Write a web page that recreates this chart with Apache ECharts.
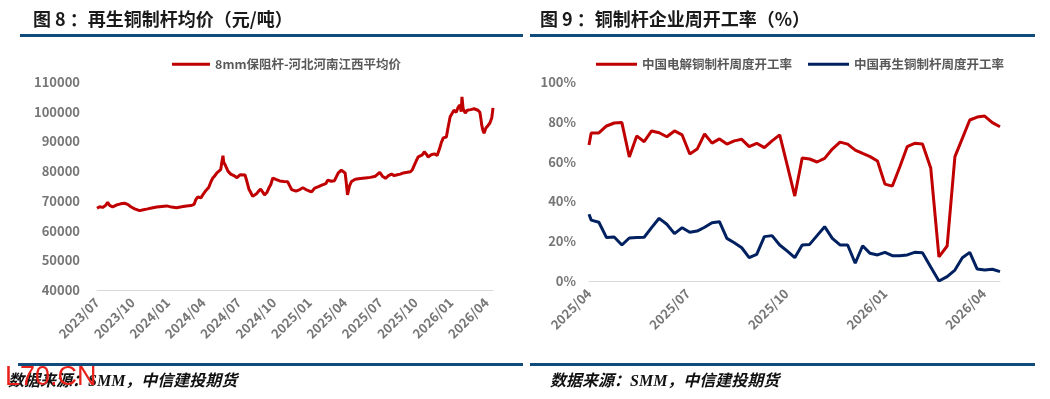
<!DOCTYPE html>
<html>
<head>
<meta charset="utf-8">
<script src="https://cdn.jsdelivr.net/npm/echarts@6/dist/echarts.min.js"></script>
<style>
	html,body{margin:0;padding:0;background:#ffffff;}
	#chart{width:1050px;height:399px;}
</style>
</head>
<body>
<div id="chart"></div>
<script>
// 图8 再生铜制杆均价（元/吨）
const priceDates = [
	'2023-07-01','2023-07-08','2023-07-16','2023-07-24','2023-07-29','2023-08-03','2023-08-11','2023-08-21',
	'2023-09-01','2023-09-11','2023-09-19','2023-09-27','2023-10-07','2023-10-20','2023-10-30','2023-11-10',
	'2023-11-20','2023-12-03','2023-12-16','2023-12-29','2024-01-11','2024-01-24','2024-02-06','2024-02-18',
	'2024-02-29','2024-03-08','2024-03-13','2024-03-18','2024-03-26','2024-03-31','2024-04-08','2024-04-15',
	'2024-04-21','2024-04-26','2024-05-01','2024-05-06','2024-05-11','2024-05-16','2024-05-19','2024-05-22',
	'2024-05-24','2024-05-29','2024-06-04','2024-06-11','2024-06-19','2024-06-27','2024-07-05','2024-07-10',
	'2024-07-18','2024-07-23','2024-07-28','2024-08-02','2024-08-07','2024-08-12','2024-08-18','2024-08-23',
	'2024-08-28','2024-09-02','2024-09-07','2024-09-13','2024-09-18','2024-09-23','2024-09-28','2024-10-06',
	'2024-10-16','2024-10-27','2024-11-06','2024-11-11','2024-11-16','2024-11-27','2024-12-07','2024-12-15',
	'2024-12-23','2024-12-30','2025-01-07','2025-01-15','2025-01-25','2025-02-04','2025-02-12','2025-02-17',
	'2025-02-25','2025-03-05','2025-03-15','2025-03-23','2025-03-28','2025-04-02','2025-04-05','2025-04-08',
	'2025-04-13','2025-04-18','2025-04-28','2025-05-11','2025-05-24','2025-06-06','2025-06-19','2025-06-30',
	'2025-07-07','2025-07-15','2025-07-23','2025-07-31','2025-08-07','2025-08-15','2025-08-23','2025-08-31',
	'2025-09-10','2025-09-18','2025-09-23','2025-09-28','2025-10-03','2025-10-08','2025-10-13','2025-10-19',
	'2025-10-24','2025-10-29','2025-11-03','2025-11-11','2025-11-19','2025-11-26','2025-12-02','2025-12-07',
	'2025-12-12','2025-12-20','2025-12-25','2025-12-30','2026-01-04','2026-01-09','2026-01-15','2026-01-20',
	'2026-01-25','2026-01-28','2026-01-30','2026-02-02','2026-02-07','2026-02-12','2026-02-20','2026-02-28',
	'2026-03-05','2026-03-10','2026-03-15','2026-03-18','2026-03-20','2026-03-23','2026-03-26','2026-03-31',
	'2026-04-05','2026-04-10','2026-04-15','2026-04-18'
]
const priceValues = [
	67500,68000,67800,68500,69500,68500,68000,68600,
	69000,69200,68800,68000,67300,66700,67000,67300,
	67600,67900,68100,68300,67900,67700,68000,68300,
	68400,68800,70500,71300,71000,72000,73500,74500,
	76500,77800,78500,79400,78800,80500,83000,85200,
	83000,81800,80000,79000,78500,77800,78800,79300,
	78700,76500,74000,72800,71500,71300,72500,73300,
	74000,73800,72000,72800,74300,75500,77700,77200,
	76700,76500,76400,77000,73800,73300,73800,74400,
	73800,73400,73000,74300,74800,75400,75800,77000,
	76600,76800,79400,80300,80700,79400,76000,72000,
	75000,76500,77300,77500,77700,77900,78300,79600,
	78300,77600,78500,79000,78500,78800,79000,79400,
	79600,79800,80500,82000,83500,84800,84500,85500,
	86500,85800,84800,85500,85800,85300,87500,89700,
	91200,91500,95000,98300,98800,100500,99800,101500,
	102300,100000,105000,101000,99500,100500,100700,101000,
	101300,100500,99800,97500,95500,93800,92800,94500,
	95300,96200,98000,101300
]
const priceTicks = [40000,50000,60000,70000,80000,90000,100000,110000]

// 图9 铜制杆企业周开工率（%）
const rateDates = [
	'2025-04-01','2025-04-03','2025-04-10','2025-04-17','2025-04-24','2025-05-01','2025-05-08','2025-05-15',
	'2025-05-22','2025-05-29','2025-06-05','2025-06-12','2025-06-19','2025-06-26','2025-07-03','2025-07-10',
	'2025-07-17','2025-07-24','2025-07-31','2025-08-07','2025-08-14','2025-08-21','2025-08-28','2025-09-04',
	'2025-09-11','2025-09-18','2025-09-25','2025-10-02','2025-10-09','2025-10-16','2025-10-23','2025-10-30',
	'2025-11-06','2025-11-13','2025-11-20','2025-11-27','2025-12-04','2025-12-11','2025-12-18','2025-12-25',
	'2026-01-01','2026-01-08','2026-01-15','2026-01-22','2026-01-29','2026-02-05','2026-02-12','2026-02-19',
	'2026-02-26','2026-03-05','2026-03-12','2026-03-19','2026-03-26','2026-04-02','2026-04-09','2026-04-16'
]
const electrolyticRate = [
	68.3,74.4,74.4,77.9,79.4,79.6,62.3,72.9,
	70.0,75.4,74.5,72.5,75.4,73.4,63.8,66.3,
	73.9,69.3,71.4,68.8,70.4,71.2,67.5,69.2,
	67.0,70.4,73.4,58.0,42.7,61.8,61.3,59.8,
	61.6,66.3,69.8,68.8,65.8,64.1,62.5,60.3,
	48.7,47.7,57.3,67.5,69.2,68.8,56.8,12.1,
	17.6,62.5,71.7,80.9,82.4,82.9,79.6,77.5
]
const recycledRate = [
	33.5,30.6,29.5,21.8,22.1,18.1,21.6,21.8,
	22.0,26.8,31.5,28.5,23.8,26.8,24.5,25.1,
	27.0,29.3,29.8,21.4,19.2,16.7,11.7,13.4,
	22.3,22.8,18.1,15.0,11.7,18.1,18.4,22.8,
	27.3,21.4,18.1,18.1,8.9,17.7,13.9,13.1,
	14.4,12.7,12.7,13.1,14.4,14.2,7.0,0.0,
	2.2,5.5,11.7,14.4,6.0,5.5,5.9,4.7
]
const rateTicks = [0,20,40,60,80,100]

// 日期 -> 距起始月的月数（带小数）
function toMonths(s, y0, m0){
	const p = s.split('-')
	const y = +p[0], m = +p[1], d = +p[2]
	const dim = new Date(y, m, 0).getDate()
	return (y - y0) * 12 + (m - m0) + (d - 1) / dim
}
function monthLabel(v, y0, m0){
	const r = Math.round(v)
	if(Math.abs(v - r) > 1e-6 || r % 3 != 0) return ''
	const t = (y0 * 12 + (m0 - 1)) + r
	const yy = Math.floor(t / 12)
	const mm = t % 12 + 1
	return yy + '/' + (mm < 10 ? '0' + mm : mm)
}

const priceData = priceDates.map((d, i) => [toMonths(d, 2023, 7), priceValues[i]])
const elecData = rateDates.map((d, i) => [toMonths(d, 2025, 4), electrolyticRate[i]])
const recyData = rateDates.map((d, i) => [toMonths(d, 2025, 4), recycledRate[i]])

const labelFont = "'Noto Sans CJK SC', 'Liberation Sans', sans-serif"
const gray = '#767676'
const red = '#c00000'
const navy = '#002060'
const ruleBlue = '#114b7b'

const xLabel = {
	rotate:45,
	margin:10,
	color:gray,
	fontSize:13,
	fontWeight:'bold',
	fontFamily:labelFont
}
const yLabel = {
	color:gray,
	fontSize:13,
	fontWeight:'bold',
	fontFamily:labelFont
}

const chart = echarts.init(document.getElementById('chart'))
chart.setOption({
	backgroundColor:'#ffffff',
	animation:false,
	legend:[{
		left:167,
		top:53,
		icon:'rect',
		itemWidth:38,
		itemHeight:3,
		itemGap:16,
		data:['8mm保阻杆-河北河南江西平均价'],
		textStyle:{color:'#595959',fontSize:12.5,fontWeight:'bold',fontFamily:labelFont}
	},{
		left:591,
		top:53,
		icon:'rect',
		itemWidth:41,
		itemHeight:3,
		itemGap:16,
		data:['中国电解铜制杆周度开工率','中国再生铜制杆周度开工率'],
		textStyle:{color:'#595959',fontSize:12.5,fontWeight:'bold',fontFamily:labelFont}
	}],
	grid:[
		{left:97,top:82,width:396,height:208},
		{left:589,top:82,width:411,height:199}
	],
	xAxis:[{
		gridIndex:0,
		type:'value',
		min:0,
		max:priceData[priceData.length - 1][0],
		interval:3,
		axisLine:{show:true,onZero:false,lineStyle:{color:'#d9d9d9',width:1}},
		axisTick:{show:false},
		splitLine:{show:false},
		axisLabel:Object.assign({}, xLabel, {formatter:v => monthLabel(v, 2023, 7)})
	},{
		gridIndex:1,
		type:'value',
		min:0,
		max:elecData[elecData.length - 1][0],
		interval:3,
		axisLine:{show:true,onZero:false,lineStyle:{color:'#d9d9d9',width:1}},
		axisTick:{show:false},
		splitLine:{show:false},
		axisLabel:Object.assign({}, xLabel, {formatter:v => monthLabel(v, 2025, 4)})
	}],
	yAxis:[{
		gridIndex:0,
		type:'value',
		min:priceTicks[0],
		max:priceTicks[priceTicks.length - 1],
		interval:priceTicks[1] - priceTicks[0],
		axisLine:{show:false},
		axisTick:{show:false},
		splitLine:{show:false},
		axisLabel:Object.assign({}, yLabel, {margin:17, formatter:v => String(v)})
	},{
		gridIndex:1,
		type:'value',
		min:rateTicks[0],
		max:rateTicks[rateTicks.length - 1],
		interval:rateTicks[1] - rateTicks[0],
		axisLine:{show:false},
		axisTick:{show:false},
		splitLine:{show:false},
		axisLabel:Object.assign({}, yLabel, {margin:13, formatter:v => v + '%'})
	}],
	series:[{
		name:'8mm保阻杆-河北河南江西平均价',
		type:'line',
		xAxisIndex:0,
		yAxisIndex:0,
		showSymbol:false,
		symbol:'none',
		itemStyle:{color:red},
		lineStyle:{color:red,width:3},
		data:priceData
	},{
		name:'中国电解铜制杆周度开工率',
		type:'line',
		xAxisIndex:1,
		yAxisIndex:1,
		showSymbol:false,
		symbol:'none',
		itemStyle:{color:red},
		lineStyle:{color:red,width:3},
		data:elecData
	},{
		name:'中国再生铜制杆周度开工率',
		type:'line',
		xAxisIndex:1,
		yAxisIndex:1,
		showSymbol:false,
		symbol:'none',
		itemStyle:{color:navy},
		lineStyle:{color:navy,width:3},
		data:recyData
	}],
	graphic:[
		// 标题
		{type:'text',left:33,top:10,style:{text:'图 8 ：再生铜制杆均价（元/吨）',fill:'#1a1a1a',font:"bold 18px 'Noto Sans CJK SC', sans-serif"}},
		{type:'text',left:540,top:10,style:{text:'图 9 ：铜制杆企业周开工率（%）',fill:'#1a1a1a',font:"bold 18px 'Noto Sans CJK SC', sans-serif"}},
		// 分隔线
		{type:'rect',shape:{x:20,y:34,width:503,height:3},style:{fill:ruleBlue}},
		{type:'rect',shape:{x:530,y:34,width:505,height:3},style:{fill:ruleBlue}},
		{type:'rect',shape:{x:18,y:363,width:505,height:3},style:{fill:ruleBlue}},
		{type:'rect',shape:{x:530,y:363,width:505,height:3},style:{fill:ruleBlue}},
		// 数据来源
		{type:'text',left:8,top:374,style:{text:'数据来源：SMM，中信建投期货',fill:'#111111',font:"italic bold 16px 'Liberation Serif', 'Noto Sans CJK SC', serif"}},
		{type:'text',left:550,top:374,style:{text:'数据来源：SMM，中信建投期货',fill:'#111111',font:"italic bold 16px 'Liberation Serif', 'Noto Sans CJK SC', serif"}},
		// 水印
		{type:'text',left:5,top:364,style:{text:'L70.CN',fill:'#e8201a',font:"27px 'Liberation Sans', sans-serif"}}
	]
})
</script>
</body>
</html>
